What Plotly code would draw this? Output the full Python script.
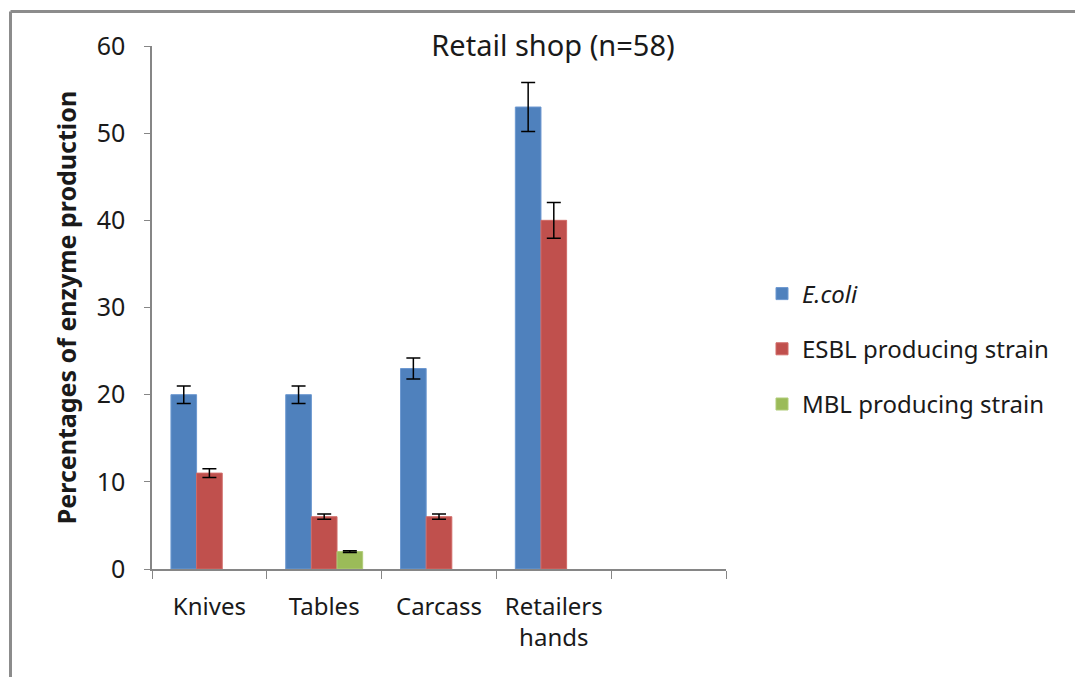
import plotly.graph_objects as go

categories = ["Knives", "Tables", "Carcass", "Retailers<br>hands", " "]
ecoli = [20, 20, 23, 53, None]
ecoli_err = [1.0, 1.0, 1.2, 2.8, 0]
esbl = [11, 6, 6, 40, None]
esbl_err = [0.5, 0.3, 0.3, 2.05, 0]
mbl = [None, 2, None, None, None]
mbl_err = [0, 0.1, 0, 0, 0]

W, H = 1083, 677
OFF = 8  # page body margin
# plot area in screen pixels
L, R, T, B = 152, 726, 46, 569

font = "Noto Sans"
err_style = dict(type="data", visible=True, color="black", thickness=1.5, width=7)

fig = go.Figure()
fig.add_trace(go.Bar(x=categories, y=ecoli, name="<i>E.coli</i>", legendgroup="a",
                     marker=dict(color="#4F81BD", line=dict(color="#6C98D0", width=1)),
                     error_y=dict(array=ecoli_err, **err_style)))
fig.add_trace(go.Bar(x=categories, y=esbl, name="ESBL producing strain", legendgroup="b",
                     marker=dict(color="#C0504D", line=dict(color="#D06A67", width=1)),
                     error_y=dict(array=esbl_err, **err_style)))
fig.add_trace(go.Bar(x=categories, y=mbl, name="MBL producing strain", legendgroup="c",
                     marker=dict(color="#9BBB59", line=dict(color="#B0CC78", width=1)),
                     error_y=dict(array=mbl_err, **err_style)))

pw, ph = R - L, B - T
def px_x(x):
    return (x - L) / pw
def px_y(y):
    return (B - y) / ph

fig.add_shape(type="line", xref="paper", yref="paper",
              x0=px_x(10.5), x1=px_x(1300), y0=px_y(11.5), y1=px_y(11.5),
              line=dict(color="#8C8C8C", width=3))
fig.add_shape(type="line", xref="paper", yref="paper",
              x0=px_x(10.5), x1=px_x(10.5), y0=px_y(11.5), y1=px_y(900),
              line=dict(color="#8C8C8C", width=3))

fig.update_layout(
    width=W, height=H,
    margin=dict(l=L - OFF, r=W - (R - OFF), t=T - OFF, b=H - (B - OFF), pad=0),
    paper_bgcolor="white", plot_bgcolor="white",
    barmode="group", bargap=0.33, bargroupgap=0,
    font=dict(family=font, size=22, color="#1a1a1a"),
    title=dict(text="Retail shop (n=58)", x=(553 - OFF) / W, xanchor="center",
               y=1 - (46 - OFF) / H, yanchor="middle", font=dict(size=29, family=font)),
    legend=dict(x=px_x(762), y=px_y(349), xanchor="left", yanchor="middle",
                font=dict(size=24, family=font), tracegroupgap=21,
                itemwidth=30, bgcolor="rgba(0,0,0,0)"),
    showlegend=True,
)
fig.update_xaxes(showline=True, linecolor="#868686", linewidth=1.5,
                 ticks="outside", tickson="boundaries", ticklen=8, tickcolor="#868686",
                 tickfont=dict(size=24, family=font), showgrid=False, ticklabelstandoff=15)
fig.update_yaxes(range=[0, 60], dtick=10, showline=True, linecolor="#868686", linewidth=1.5,
                 ticks="outside", ticklen=6, tickcolor="#868686", showgrid=False,
                 zeroline=False, ticklabelstandoff=14,
                 tickfont=dict(size=25, family=font),
                 title=dict(text="<b>Percentages of enzyme production</b>",
                            font=dict(size=25, family=font), standoff=13))

fig.write_html("out.html")
